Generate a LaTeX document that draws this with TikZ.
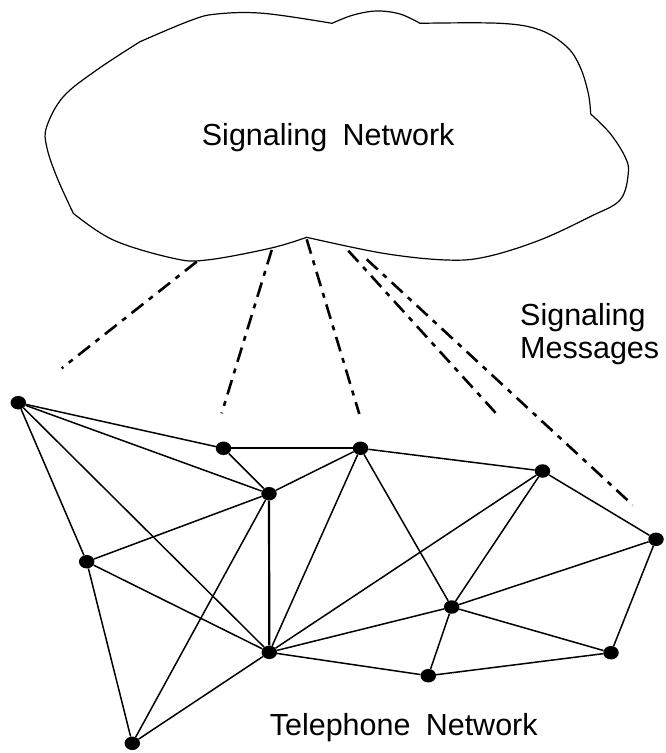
\documentclass[tikz,border=0pt]{standalone}
\usepackage{fontspec}
\setmainfont{Liberation Sans}
\usetikzlibrary{shapes.geometric}
\begin{document}
\begin{tikzpicture}[x=1pt,y=-1pt,
  edge/.style={line width=1.5pt},
  heavy/.style={line width=2.2pt},
  sig/.style={line width=2.6pt, dash pattern=on 15pt off 7pt on 5pt off 7pt},
  dot/.style={ellipse, fill=black, inner sep=0pt, minimum width=15.5pt, minimum height=13.5pt},
  lbl/.style={inner sep=0pt, anchor=base west, font=\fontsize{30.5}{33.5}\selectfont},
  cloud/.style={line width=1.2pt}]
\useasboundingbox (0,0) rectangle (665,753);
% cloud
\draw[cloud]
  plot[smooth, tension=0.6] coordinates {(73.3,213.3) (56.7,176.7) (46.7,146.7) (46.7,126.7) (63.3,96.7) (96.7,70) (140,41.7)}
  -- plot[smooth, tension=0.6] coordinates {(140,41.7) (190,20.7) (216.7,14) (263.3,13.3) (332,23.3)}
  -- plot[smooth, tension=0.6] coordinates {(332,23.3) (353.3,15) (376.7,11) (400,14) (420,23.3)}
  -- plot[smooth, tension=0.6] coordinates {(420,23.3) (500,23.3) (540,30) (566.7,46.7) (580,66.7) (588.3,93.3) (590.7,114)}
  -- plot[smooth, tension=0.6] coordinates {(590.7,114) (610,133.3) (625,156.7) (628.3,173.3) (620,200) (590,216.7) (540,240) (486.7,256.7) (446.7,260) (383.3,253.3) (306.7,237.3)}
  -- plot[smooth, tension=0.6] coordinates {(306.7,237.3) (270,248.3) (206.7,260) (173.3,258.3) (113.3,240) (73.3,213.3)}
  -- cycle;
\node[lbl] (sn) at (201.7,145) {Signaling\hspace{0.5em}Network};
% signaling messages
\coordinate (s1) at (196.7,261.7); \coordinate (e1) at (61.7,368.3);
\coordinate (s2) at (271.7,250);   \coordinate (e2) at (221.7,413.3);
\coordinate (s3) at (306.7,239.3); \coordinate (e3) at (359.3,414);
\coordinate (s4) at (348.3,250.7); \coordinate (e4) at (496,413.3);
\coordinate (s5) at (366.7,259.3); \coordinate (e5) at (632.7,505);
\foreach \i in {1,...,5} \draw[sig] (s\i) -- (e\i);
\node[lbl] (sm1) at (520,325) {Signaling};
\node[lbl] (sm2) at (520,358.5) {Messages};
% telephone network nodes
\node[dot] (A) at (18.3,402.7) {};
\node[dot] (B) at (223.5,448.3) {};
\node[dot] (C) at (360.5,448.3) {};
\node[dot] (D) at (269,493.7) {};
\node[dot] (E) at (542.5,471) {};
\node[dot] (F) at (86.7,561.7) {};
\node[dot] (G) at (656,539.3) {};
\node[dot] (H) at (451.7,607) {};
\node[dot] (I) at (269.3,652.3) {};
\node[dot] (J) at (428.3,675.7) {};
\node[dot] (K) at (611,652.7) {};
\node[dot] (L) at (132.3,743.3) {};
\draw[heavy] (B) -- (C);
\draw[heavy] (D) -- (I);
\foreach \a/\b in {A/B,A/D,A/F,A/I,B/D,C/D,C/I,C/H,C/E,D/F,D/L,F/I,F/L,I/L,I/E,I/H,I/J,E/H,E/G,H/G,H/J,H/K,J/K,K/G}
  \draw[edge] (\a) -- (\b);
\node[lbl] (tn) at (269.6,735) {Telephone\hspace{0.5em}Network};
\end{tikzpicture}
\end{document}
